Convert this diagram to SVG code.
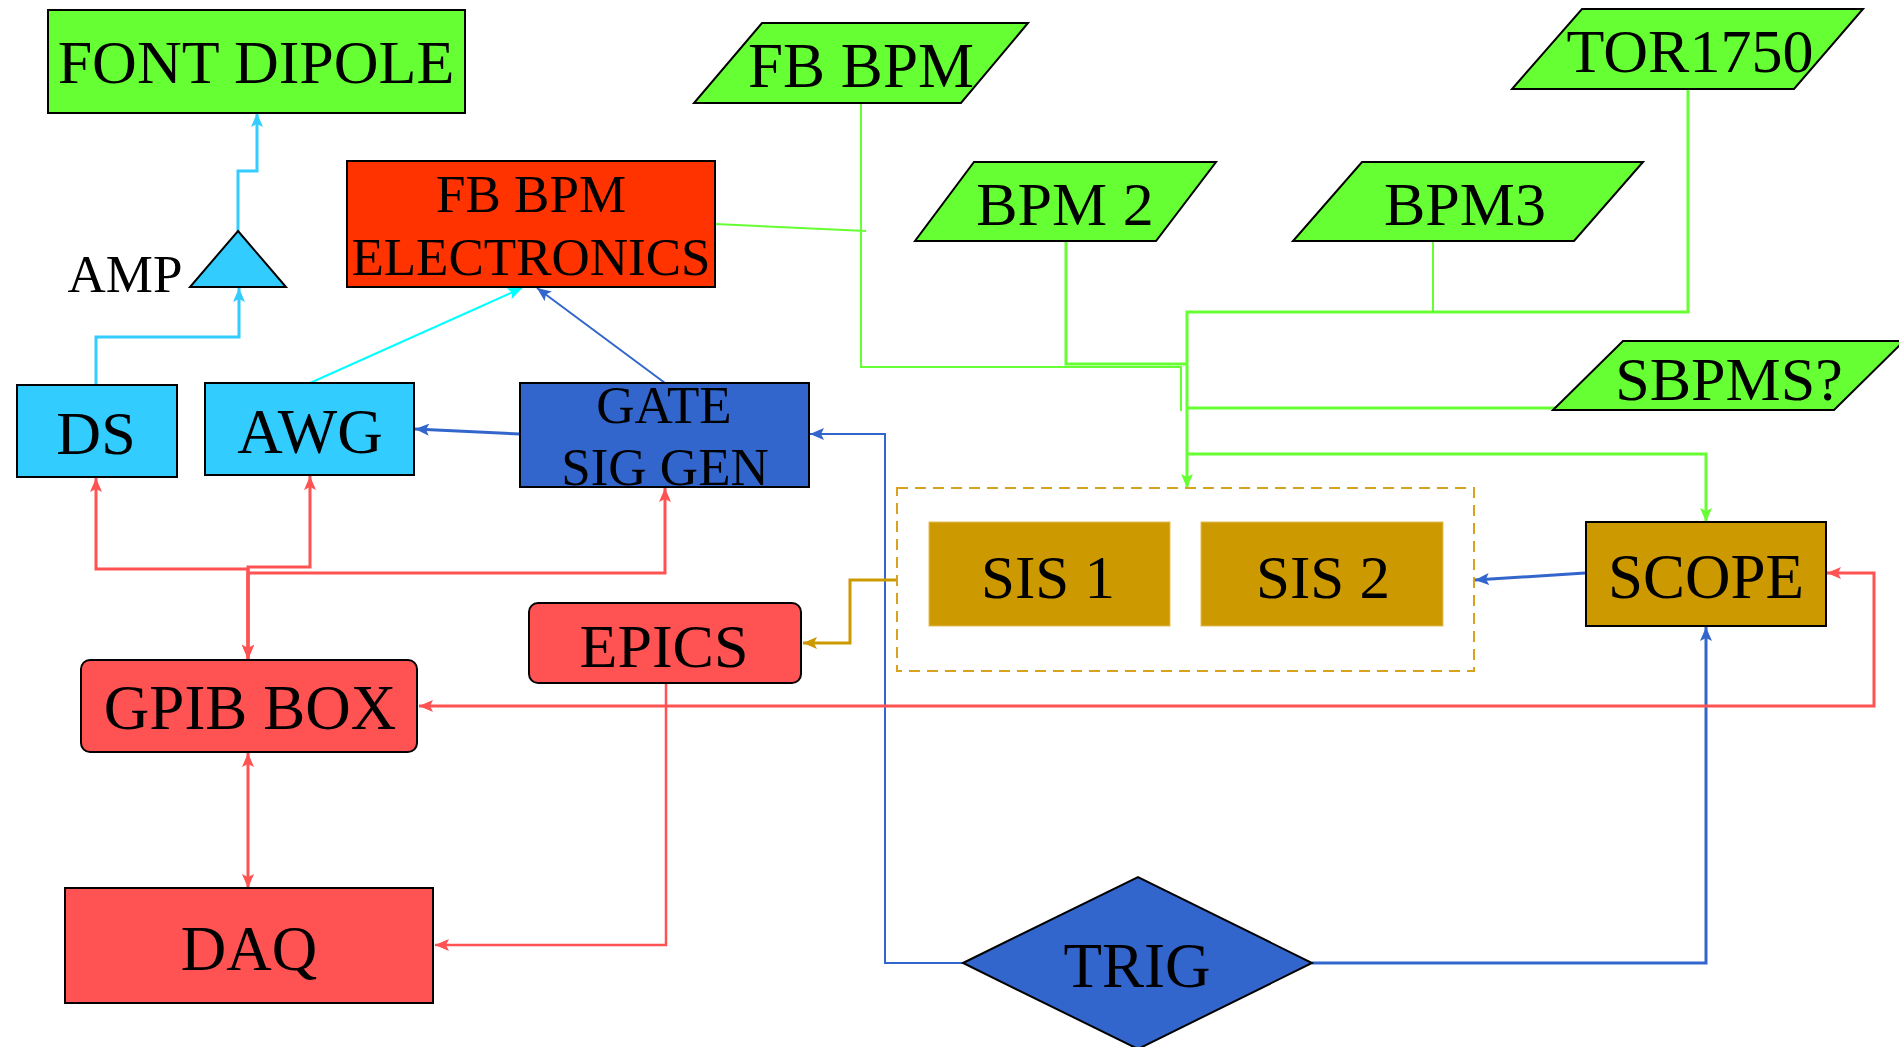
<svg xmlns="http://www.w3.org/2000/svg" width="1899" height="1047" viewBox="0 0 1899 1047">
<style>
.n{stroke:#000;stroke-width:2}
.g{fill:#66FF33}
.r{fill:#FF5252}
.c{fill:#33CCFF}
.b{fill:#3366CC}
.o{fill:#CC9900}
.t{font-family:"Liberation Serif","Times New Roman",serif;fill:#000;text-anchor:middle}
.l{fill:none;stroke-linejoin:miter}
</style>
<defs>
<marker id="aC" viewBox="0 0 14 12" refX="14" refY="6" markerWidth="14" markerHeight="12" markerUnits="userSpaceOnUse" orient="auto-start-reverse"><path d="M0,0 L14,6 L0,12 L3,6 z" fill="#33CCFF"/></marker>
<marker id="aA" viewBox="0 0 14 12" refX="14" refY="6" markerWidth="14" markerHeight="12" markerUnits="userSpaceOnUse" orient="auto-start-reverse"><path d="M0,0 L14,6 L0,12 L3,6 z" fill="#00FFFF"/></marker>
<marker id="aB" viewBox="0 0 14 12" refX="14" refY="6" markerWidth="14" markerHeight="12" markerUnits="userSpaceOnUse" orient="auto-start-reverse"><path d="M0,0 L14,6 L0,12 L3,6 z" fill="#3366CC"/></marker>
<marker id="aR" viewBox="0 0 14 12" refX="14" refY="6" markerWidth="14" markerHeight="12" markerUnits="userSpaceOnUse" orient="auto-start-reverse"><path d="M0,0 L14,6 L0,12 L3,6 z" fill="#FF5252"/></marker>
<marker id="aG" viewBox="0 0 14 12" refX="14" refY="6" markerWidth="14" markerHeight="12" markerUnits="userSpaceOnUse" orient="auto-start-reverse"><path d="M0,0 L14,6 L0,12 L3,6 z" fill="#66FF33"/></marker>
<marker id="aO" viewBox="0 0 14 12" refX="14" refY="6" markerWidth="14" markerHeight="12" markerUnits="userSpaceOnUse" orient="auto-start-reverse"><path d="M0,0 L14,6 L0,12 L3,6 z" fill="#CC9900"/></marker>
</defs>

<g id="connectors" class="l">
<!-- cyan -->
<path d="M238,231 V171 H257 V113" stroke="#33CCFF" stroke-width="3" marker-end="url(#aC)"/>
<path d="M96,385 V337 H239 V288" stroke="#33CCFF" stroke-width="3" marker-end="url(#aC)"/>
<path d="M310,383 L522,288" stroke="#00FFFF" stroke-width="2" marker-end="url(#aA)"/>
<!-- blue -->
<path d="M665,383 L537,288" stroke="#3366CC" stroke-width="2" marker-end="url(#aB)"/>
<path d="M520,434 L415,429" stroke="#3366CC" stroke-width="3" marker-end="url(#aB)"/>
<path d="M963,963 H885 V434 H810" stroke="#3366CC" stroke-width="2" marker-end="url(#aB)"/>
<path d="M1312,963 H1706 V627" stroke="#3366CC" stroke-width="3" marker-end="url(#aB)"/>
<path d="M1585,573 L1475,580" stroke="#3366CC" stroke-width="3" marker-end="url(#aB)"/>
<!-- gold -->
<path d="M897,580 H850 V643 H803" stroke="#CC9900" stroke-width="3" marker-end="url(#aO)"/>
<!-- red -->
<path d="M666,683 V945 H435" stroke="#FF5252" stroke-width="2.5" marker-end="url(#aR)"/>
<path d="M1827,573 H1874 V706 H419" stroke="#FF5252" stroke-width="3" marker-start="url(#aR)" marker-end="url(#aR)"/>
<path d="M248,753 V888" stroke="#FF5252" stroke-width="3" marker-start="url(#aR)" marker-end="url(#aR)"/>
<path d="M96,478 V569 H248 V659" stroke="#FF5252" stroke-width="3" marker-start="url(#aR)" marker-end="url(#aR)"/>
<path d="M310,476 V567 H248 V659" stroke="#FF5252" stroke-width="3" marker-start="url(#aR)" marker-end="url(#aR)"/>
<path d="M665,488 V573 H248 V659" stroke="#FF5252" stroke-width="3" marker-start="url(#aR)" marker-end="url(#aR)"/>
<!-- green -->
<path d="M715,224 L866,231" stroke="#66FF33" stroke-width="2"/>
<path d="M861,103 V367 H1181 V411" stroke="#66FF33" stroke-width="2"/>
<path d="M1066,241 V364 H1187" stroke="#66FF33" stroke-width="3"/>
<path d="M1433,241 V313" stroke="#66FF33" stroke-width="2"/>
<path d="M1688,89 V312 H1187 V488" stroke="#66FF33" stroke-width="3" marker-end="url(#aG)"/>
<path d="M1555,408 H1187" stroke="#66FF33" stroke-width="3"/>
<path d="M1187,454 H1706 V522" stroke="#66FF33" stroke-width="3" marker-end="url(#aG)"/>
</g>

<g id="sis-group">
<rect x="897" y="488" width="577" height="183" fill="none" stroke="#D9A21E" stroke-width="2" stroke-dasharray="11,7"/>
</g>

<g id="font-dipole"><rect class="n g" x="48" y="10" width="417" height="103"/><text class="t" x="256" y="83" font-size="62">FONT DIPOLE</text></g>
<g id="fb-bpm-electronics"><rect class="n" x="347" y="161" width="368" height="126" fill="#FF3300"/><text class="t" x="531" y="212" font-size="53">FB BPM</text><text class="t" x="531" y="275" font-size="53">ELECTRONICS</text></g>
<g id="amp"><polygon class="n c" points="238,231 286,287 190,287"/><text class="t" x="125" y="292" font-size="53">AMP</text></g>
<g id="ds"><rect class="n c" x="17" y="385" width="160" height="92"/><text class="t" x="96" y="454" font-size="62">DS</text></g>
<g id="awg"><rect class="n c" x="205" y="383" width="209" height="92"/><text class="t" x="310" y="453" font-size="63">AWG</text></g>
<g id="gate-sig-gen"><rect class="n b" x="520" y="383" width="289" height="104"/><text class="t" x="664" y="423" font-size="53">GATE</text><text class="t" x="665" y="485" font-size="53">SIG GEN</text></g>
<g id="epics"><rect class="n r" x="529" y="603" width="272" height="80" rx="9"/><text class="t" x="664" y="667" font-size="62">EPICS</text></g>
<g id="gpib-box"><rect class="n r" x="81" y="660" width="336" height="92" rx="9"/><text class="t" x="250" y="729" font-size="63">GPIB BOX</text></g>
<g id="daq"><rect class="n r" x="65" y="888" width="368" height="115"/><text class="t" x="249" y="970" font-size="63">DAQ</text></g>
<g id="sis1"><rect class="o" x="929" y="522" width="241" height="104" stroke="#E2BE5A" stroke-width="1"/><text class="t" x="1048" y="598" font-size="61">SIS 1</text></g>
<g id="sis2"><rect class="o" x="1201" y="522" width="242" height="104" stroke="#E2BE5A" stroke-width="1"/><text class="t" x="1323" y="598" font-size="61">SIS 2</text></g>
<g id="scope"><rect class="n o" x="1586" y="522" width="240" height="104"/><text class="t" x="1706" y="598" font-size="63">SCOPE</text></g>
<g id="trig"><polygon class="n b" points="963,963 1138,877 1312,963 1138,1049"/><text class="t" x="1137" y="987" font-size="63">TRIG</text></g>
<g id="fb-bpm"><polygon class="n g" points="762,23 1028,23 961,103 694,103"/><text class="t" x="861" y="87" font-size="63">FB BPM</text></g>
<g id="bpm2"><polygon class="n g" points="974,162 1216,162 1156,241 915,241"/><text class="t" x="1065" y="225" font-size="62">BPM 2</text></g>
<g id="bpm3"><polygon class="n g" points="1362,162 1643,162 1574,241 1293,241"/><text class="t" x="1465" y="225" font-size="62">BPM3</text></g>
<g id="tor1750"><polygon class="n g" points="1582,9 1863,9 1794,89 1512,89"/><text class="t" x="1690" y="72" font-size="62">TOR1750</text></g>
<g id="sbpms"><polygon class="n g" points="1623,341 1904,341 1834,410 1553,410"/><text class="t" x="1729" y="400" font-size="62">SBPMS?</text></g>
</svg>
